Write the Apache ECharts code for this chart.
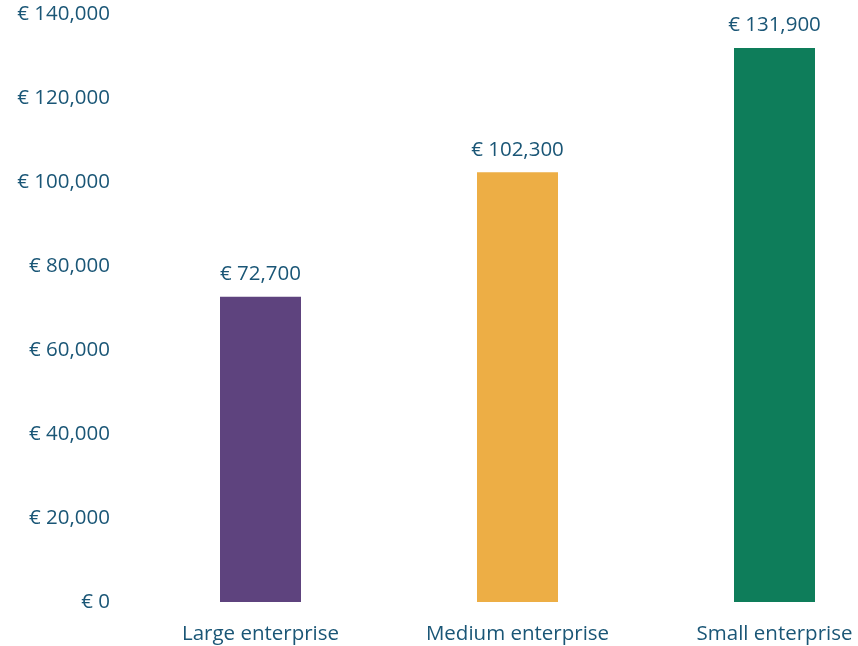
<!DOCTYPE html>
<html>
<head>
<meta charset="utf-8">
<script src="https://cdn.jsdelivr.net/npm/echarts@6/dist/echarts.min.js"></script>
<style>
  html, body { margin: 0; padding: 0; background: #fff; }
  #chart { width: 858px; height: 646px; }
</style>
</head>
<body>
<div id="chart"></div>
<script>
// Average value per enterprise size class
const categories = ['Large enterprise', 'Medium enterprise', 'Small enterprise'];
const values = [72700, 102300, 131900];
const barColors = ['#5E437E', '#EDAE45', '#0E7D5A'];
const yTicks = [0, 20000, 40000, 60000, 80000, 100000, 120000, 140000];

const textColor = '#1A5676';
const fontFamily = '"Open Sans", sans-serif';
const fontSize = 20.5;

const euro = v => '€ ' + v.toLocaleString('en-US');

const chart = echarts.init(document.getElementById('chart'));
chart.setOption({
  animation: false,
  grid: {
    left: 132, top: 14, width: 771, bottom: 44,
    containLabel: false,
    outerBoundsMode: 'none'
  },
  xAxis: {
    type: 'category',
    data: categories,
    axisLine: { show: false },
    axisTick: { show: false },
    axisLabel: { color: textColor, fontSize, fontFamily, margin: 22 }
  },
  yAxis: {
    type: 'value',
    min: yTicks[0],
    max: yTicks[yTicks.length - 1],
    interval: yTicks[1] - yTicks[0],
    splitLine: { show: false },
    axisLine: { show: false },
    axisTick: { show: false },
    axisLabel: {
      color: textColor, fontSize, fontFamily, margin: 22,
      padding: [3, 0, 0, 0],
      formatter: euro
    }
  },
  series: [{
    type: 'bar',
    barWidth: 81,
    data: values.map((v, i) => ({ value: v, itemStyle: { color: barColors[i] } })),
    label: {
      show: true,
      position: 'top',
      distance: 12,
      color: textColor,
      fontSize,
      fontFamily,
      formatter: p => euro(p.value)
    }
  }]
});
</script>
</body>
</html>
